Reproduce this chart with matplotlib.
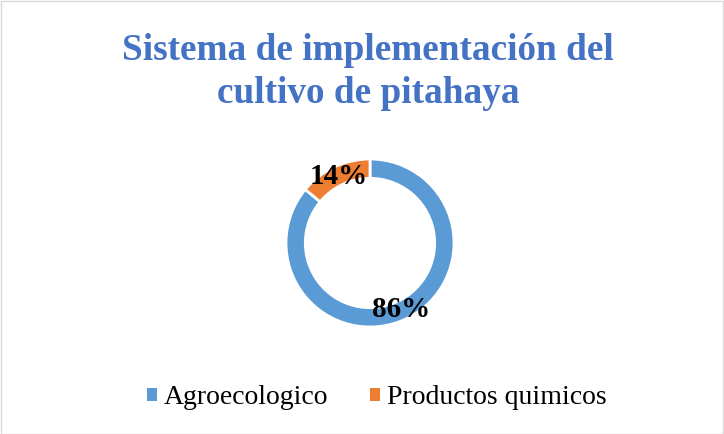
import matplotlib
matplotlib.use("Agg")
import matplotlib.pyplot as plt
from matplotlib.patches import Rectangle, Patch

categories = ["Agroecologico", "Productos quimicos"]
values = [86, 14]
colors = ["#5B9BD5", "#ED7D31"]
title = "Sistema de implementación del\ncultivo de pitahaya"

W, H = 724, 434
fig = plt.figure(figsize=(W/100, H/100), dpi=100)
fig.patch.set_facecolor("white")

cx, cy, r = 370, 243, 84
ax = fig.add_axes([(cx - r)/W, (H - cy - r)/H, 2*r/W, 2*r/H])
wedges, texts, autotexts = ax.pie(
    values, colors=colors, startangle=90, counterclock=False,
    radius=1.0, wedgeprops=dict(width=0.23, edgecolor="white", linewidth=2),
    autopct=lambda p: f"{p:.0f}%", pctdistance=0.88,
    textprops=dict(family="Liberation Serif", fontweight="bold", fontsize=21, color="black"))
ax.set_xlim(-1.0, 1.0)
ax.set_ylim(-1.0, 1.0)
ax.axis("off")

fig.text(0.5 + 6/W, 1 - 72/H, title, ha="center", va="center", family="Liberation Serif",
         fontweight="bold", fontsize=26.8, color="#4472C4", linespacing=1.32)

handles = [Patch(facecolor=c, edgecolor="none") for c in colors]
fig.legend(handles, categories, loc="center", bbox_to_anchor=(0.5 + 15/W, 1 - 398/H),
           ncol=2, frameon=False, prop=dict(family="Liberation Serif", size=20),
           handlelength=0.36, handleheight=0.36, handletextpad=0.25, columnspacing=1.5)

fig.add_artist(Rectangle((0.5/W, 0.5/H), 1 - 1.5/W, 1 - 1.5/H, transform=fig.transFigure,
                         fill=False, edgecolor="#D9D9D9", linewidth=1))

fig.savefig("out.png", dpi=100)
